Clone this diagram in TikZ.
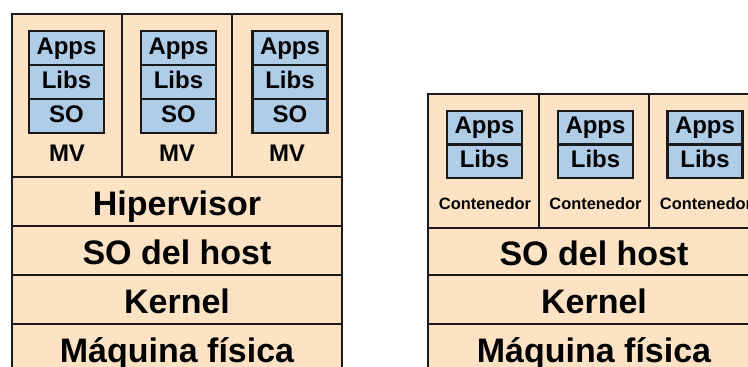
\documentclass[tikz,border=0pt]{standalone}
\usepackage{fontspec}
\setmainfont{Liberation Sans}
\definecolor{peach}{HTML}{FDE3C4}
\definecolor{bluebox}{HTML}{B0CDE8}
\definecolor{linec}{HTML}{1A1A1A}
\tikzset{
  layer/.style={draw=linec, fill=peach, line width=2pt, inner sep=0pt,
    font=\bfseries\fontsize{34}{34}\selectfont, text height=30pt, text depth=2pt},
  column/.style={draw=linec, fill=peach, line width=2pt, inner sep=0pt},
  cell/.style={draw=linec, fill=bluebox, line width=2.6pt, inner sep=0pt,
    minimum width=75pt, font=\bfseries\fontsize{24}{24}\selectfont,
    text height=17pt, text depth=5pt},
  vmlabel/.style={inner sep=0pt, font=\bfseries\fontsize{24}{24}\selectfont},
  ctlabel/.style={inner sep=0pt, font=\bfseries\fontsize{16.4}{16.4}\selectfont}
}
\begin{document}
\begin{tikzpicture}[x=1pt,y=-1pt]
\useasboundingbox (0,0) rectangle (748,367);
\clip (0,0) rectangle (748,367);
\fill[white] (0,0) rectangle (748,367);
% ---------- left: virtual machines ----------
\node[layer, minimum width=330pt, minimum height=49pt] (hyp) at (177,201.5) {Hipervisor};
\node[layer, minimum width=330pt, minimum height=49pt] (hostL) at (177,250.5) {SO del host};
\node[layer, minimum width=330pt, minimum height=49pt] (kerL) at (177,299.5) {Kernel};
\node[layer, minimum width=330pt, minimum height=49pt] (hwL) at (177,348.5) {Máquina física};
\foreach \i/\cx/\bx in {1/67/66.5, 2/177/178.5, 3/287/290}{
  \node[column, minimum width=110pt, minimum height=163pt] (vm\i) at (\cx,95.5) {};
  \node[cell, minimum height=34pt] (apps\i) at (\bx,48) {Apps};
  \node[cell, minimum height=34pt] (libs\i) at (\bx,82) {Libs};
  \node[cell, minimum height=34pt] (so\i) at (\bx,116) {SO};
  \node[vmlabel] (mv\i) at (\cx,153) {MV};
}
% ---------- right: containers ----------
\node[layer, minimum width=332pt, minimum height=47pt] (hostR) at (594,251.5) {SO del host};
\node[layer, minimum width=332pt, minimum height=49pt] (kerR) at (594,299.5) {Kernel};
\node[layer, minimum width=332pt, minimum height=49pt] (hwR) at (594,348.5) {Máquina física};
\foreach \i/\cx/\bx in {1/483.5/484.5, 2/594/595.5, 3/704.5/705}{
  \node[column, minimum width=110.5pt, minimum height=134pt] (ct\i) at (\cx,161) {};
  \node[cell, minimum height=33.5pt] (capps\i) at (\bx,127.75) {Apps};
  \node[cell, minimum height=33.5pt] (clibs\i) at (\bx,161.25) {Libs};
  \node[ctlabel] (clab\i) at (\cx+1.5,204) {Contenedor};
}
\end{tikzpicture}
\end{document}
